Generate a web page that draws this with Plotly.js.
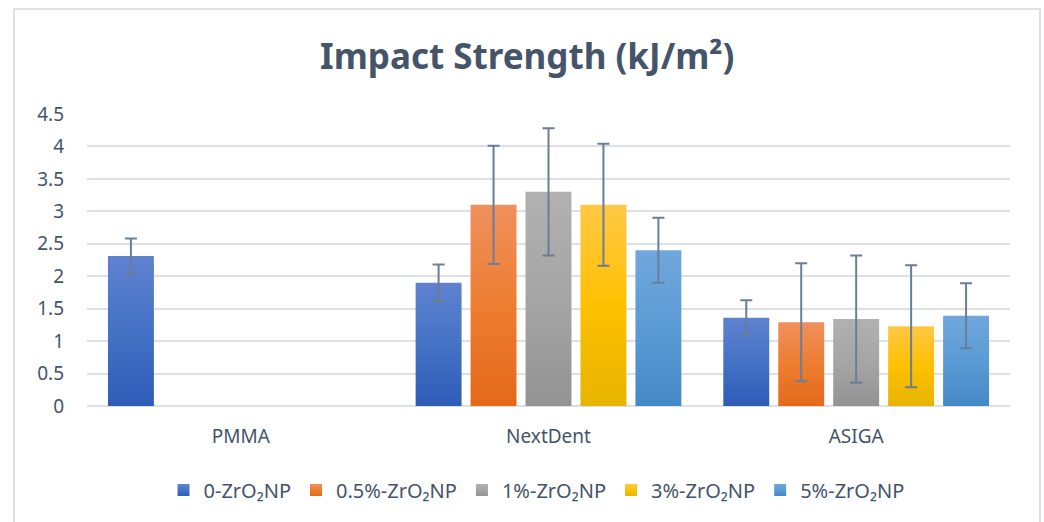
<!DOCTYPE html>
<html>
<head>
<meta charset="utf-8">
<script src="https://cdn.plot.ly/plotly-3.0.1.min.js"></script>
<style>html,body{margin:0;padding:0;background:#fff;}#chart{width:1044px;height:522px;}</style>
</head>
<body>
<div id="chart"></div>
<script>
const categories = ["PMMA", "NextDent", "ASIGA"];
const seriesNames = ["0-ZrO₂NP", "0.5%-ZrO₂NP", "1%-ZrO₂NP", "3%-ZrO₂NP", "5%-ZrO₂NP"];
const values0  = [2.31, 1.90, 1.36];
const values05 = [null, 3.10, 1.29];
const values1  = [null, 3.30, 1.34];
const values3  = [null, 3.10, 1.23];
const values5  = [null, 2.40, 1.39];
const err0  = [0.27, 0.28, 0.27];
const err05 = [null, 0.91, 0.91];
const err1  = [null, 0.98, 0.98];
const err3  = [null, 0.94, 0.94];
const err5  = [null, 0.50, 0.50];
const colors = ["#4472C4", "#ED7D31", "#A5A5A5", "#FFC000", "#5B9BD5"];
const gradTop = ["#5f82d0", "#f0905e", "#b1b1b1", "#ffc846", "#70a7dc"];
const gradBottom = ["#2e5cb8", "#e5691a", "#939393", "#e6b400", "#4588c7"];
const yTicks = [0, 0.5, 1, 1.5, 2, 2.5, 3, 3.5, 4, 4.5];

const allValues = [values0, values05, values1, values3, values5];
const allErr = [err0, err05, err1, err3, err5];

const traces = allValues.map((v, i) => ({
  type: 'bar',
  name: seriesNames[i],
  x: categories,
  y: v,
  marker: {color: colors[i]},
  error_y: {type: 'data', array: allErr[i], visible: true, color: '#6a7e98', thickness: 2, width: 6}
}));

const font = "'Noto Sans', 'Open Sans', sans-serif";
const layout = {
  width: 1044, height: 522,
  paper_bgcolor: '#ffffff', plot_bgcolor: '#ffffff',
  margin: {l: 87, r: 34, t: 114, b: 116},
  barmode: 'group', bargap: 0.107, bargroupgap: 0.164,
  showlegend: true,
  title: {text: '<b>Impact Strength (kJ/m²)</b>', x: 0.477, xanchor: 'center', xref: 'paper', y: 0.891, yanchor: 'middle',
          font: {family: font, size: 35, color: '#44546A'}},
  xaxis: {type: 'category', showgrid: false, showline: false, zeroline: false, ticks: '', ticklabelstandoff: 17,
          tickfont: {family: font, size: 19, color: '#44546A'}},
  yaxis: {range: [0, 4.5], tickvals: yTicks, ticktext: yTicks.map(String), showgrid: true, gridcolor: '#dde1e6', gridwidth: 2,
          zeroline: true, zerolinecolor: '#dde1e6', zerolinewidth: 2, showline: false, ticks: '', ticklabelstandoff: 22,
          tickfont: {family: font, size: 19, color: '#44546A'}},
  legend: {orientation: 'h', x: 0.487, xanchor: 'center', y: -0.288, yanchor: 'middle', traceorder: 'normal',
           font: {family: font, size: 20, color: '#44546A'}, itemwidth: 30},
  shapes: [{type: 'rect', xref: 'paper', yref: 'paper', x0: -0.0791, x1: 1.0325, y0: -0.45, y1: 1.3596,
            line: {color: '#dde1e6', width: 2}, layer: 'below'}]
};

Plotly.newPlot('chart', traces, layout, {staticPlot: true, displayModeBar: false}).then(() => {
  const ns = 'http://www.w3.org/2000/svg';
  const svg = document.querySelector('#chart svg.main-svg');
  let defs = svg.querySelector('defs');
  if (!defs) { defs = document.createElementNS(ns, 'defs'); svg.insertBefore(defs, svg.firstChild); }
  gradTop.forEach((c, i) => {
    const g = document.createElementNS(ns, 'linearGradient');
    g.setAttribute('id', 'barGrad' + i);
    g.setAttribute('x1', '0'); g.setAttribute('y1', '0'); g.setAttribute('x2', '0'); g.setAttribute('y2', '1');
    const s1 = document.createElementNS(ns, 'stop'); s1.setAttribute('offset', '0'); s1.setAttribute('stop-color', c);
    const s2 = document.createElementNS(ns, 'stop'); s2.setAttribute('offset', '0.5'); s2.setAttribute('stop-color', colors[i]);
    const s3 = document.createElementNS(ns, 'stop'); s3.setAttribute('offset', '1'); s3.setAttribute('stop-color', gradBottom[i]);
    g.appendChild(s1); g.appendChild(s2); g.appendChild(s3);
    defs.appendChild(g);
  });
  document.querySelectorAll('#chart .barlayer .trace').forEach((tr, i) => {
    tr.querySelectorAll('.point path').forEach(p => { p.style.fill = 'url(#barGrad' + i + ')'; });
  });
  document.querySelectorAll('#chart .legend .traces').forEach((tr, i) => {
    tr.querySelectorAll('.legendpoints path').forEach(p => { p.style.fill = 'url(#barGrad' + i + ')'; });
  });
});
</script>
</body>
</html>
